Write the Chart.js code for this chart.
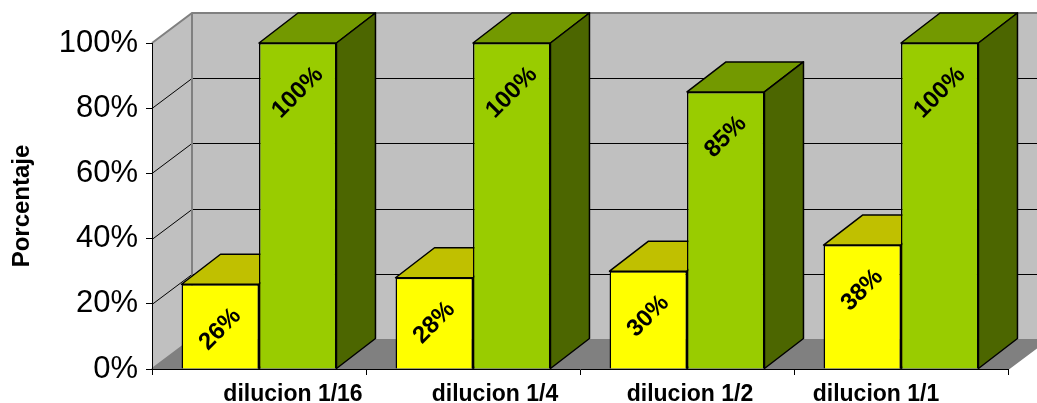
<!DOCTYPE html>
<html>
<head>
<meta charset="utf-8">
<script src="https://cdn.jsdelivr.net/npm/chart.js@4"></script>
<style>
  html, body { margin: 0; padding: 0; background: #fff; }
</style>
</head>
<body>
<canvas id="chart" width="1037" height="403"></canvas>
<script>
// data
const categories = ["dilucion 1/16", "dilucion 1/4", "dilucion 1/2", "dilucion 1/1"];
const seriesYellow = [26, 28, 30, 38];
const seriesGreen = [100, 100, 85, 100];
const yTicks = [0, 20, 40, 60, 80, 100];

// fake 3d depth (pixels)
const WALL_DX = 40, WALL_DY = -30;
const BAR_DX = 39, BAR_DY = -30;
// excel's perspective pulls the category labels toward the middle
const LABEL_SHIFT = [34, 22, 3, -25];

const faceColors = [
  { front: "#ffff00", top: "#c0c000", side: "#999900" },
  { front: "#99cc00", top: "#739900", side: "#4c6600" },
];

const FONT = 'Arial, "Liberation Sans", sans-serif';
Chart.defaults.font.family = FONT;
Chart.defaults.color = "#000";

function poly(ctx, pts, fill, stroke, lw) {
  ctx.beginPath();
  ctx.moveTo(pts[0][0], pts[0][1]);
  for (let i = 1; i < pts.length; i++) ctx.lineTo(pts[i][0], pts[i][1]);
  ctx.closePath();
  if (fill) { ctx.fillStyle = fill; ctx.fill(); }
  if (stroke) { ctx.strokeStyle = stroke; ctx.lineWidth = lw || 1; ctx.stroke(); }
}

const walls = {
  id: "walls",
  beforeDraw(chart) {
    const ctx = chart.ctx;
    const a = chart.chartArea;
    const ys = chart.scales.y;
    const L = a.left, R = a.right, T = a.top, B = a.bottom;
    ctx.save();
    // side wall, back wall, floor
    poly(ctx, [[L, B], [L, T], [L + WALL_DX, T + WALL_DY], [L + WALL_DX, B + WALL_DY]], "#c0c0c0");
    poly(ctx, [[L + WALL_DX, T + WALL_DY], [R + WALL_DX, T + WALL_DY], [R + WALL_DX, B + WALL_DY], [L + WALL_DX, B + WALL_DY]], "#c0c0c0");
    poly(ctx, [[L, B], [R, B], [R + WALL_DX, B + WALL_DY], [L + WALL_DX, B + WALL_DY]], "#808080");

    // gridlines across the walls
    ctx.strokeStyle = "#000";
    ctx.lineWidth = 1;
    yTicks.forEach((v) => {
      if (v === yTicks[0] || v === yTicks[yTicks.length - 1]) return;
      const y = Math.round(ys.getPixelForValue(v)) + 0.5;
      ctx.beginPath();
      ctx.moveTo(L, y);
      ctx.lineTo(L + WALL_DX, y + WALL_DY);
      ctx.lineTo(R + WALL_DX, y + WALL_DY);
      ctx.stroke();
    });

    // wall edges
    ctx.strokeStyle = "#808080";
    ctx.lineWidth = 2;
    ctx.beginPath();
    ctx.moveTo(L, T);
    ctx.lineTo(L + WALL_DX, T + WALL_DY);
    ctx.lineTo(R + WALL_DX, T + WALL_DY);
    ctx.moveTo(L + WALL_DX, T + WALL_DY);
    ctx.lineTo(L + WALL_DX, B + WALL_DY);
    ctx.moveTo(L, B);
    ctx.lineTo(L + WALL_DX, B + WALL_DY);
    ctx.moveTo(R, B);
    ctx.lineTo(R + WALL_DX, B + WALL_DY);
    ctx.stroke();
    ctx.restore();
  },
  beforeDatasetsDraw(chart) {
    // tops and sides of the boxes, fronts are the normal bars
    const ctx = chart.ctx;
    ctx.save();
    ctx.lineJoin = "round";
    for (let i = 0; i < categories.length; i++) {
      chart.data.datasets.forEach((ds, d) => {
        const el = chart.getDatasetMeta(d).data[i];
        const l = el.x - el.width / 2, r = el.x + el.width / 2;
        const t = el.y, b = el.base;
        poly(ctx, [[l, t], [r, t], [r + BAR_DX, t + BAR_DY], [l + BAR_DX, t + BAR_DY]], faceColors[d].top, "#000", 1.5);
        poly(ctx, [[r, t], [r + BAR_DX, t + BAR_DY], [r + BAR_DX, b + BAR_DY], [r, b]], faceColors[d].side, "#000", 1.5);
      });
    }
    ctx.restore();
  },
  afterDatasetsDraw(chart) {
    // rotated value labels inside the bars
    const ctx = chart.ctx;
    ctx.save();
    ctx.font = "bold 24px " + FONT;
    ctx.fillStyle = "#000";
    ctx.textAlign = "center";
    ctx.textBaseline = "middle";
    chart.data.datasets.forEach((ds, d) => {
      chart.getDatasetMeta(d).data.forEach((el, i) => {
        const txt = ds.data[i] + "%";
        const w = ctx.measureText(txt).width;
        const half = (w + 17) * 0.707 / 2;
        ctx.save();
        ctx.translate(el.x, el.y + 22 + half);
        ctx.rotate(-Math.PI / 4);
        ctx.fillText(txt, 0, 0);
        ctx.restore();
      });
    });
    ctx.restore();
  },
  afterDraw(chart) {
    // category labels
    const ctx = chart.ctx;
    const xs = chart.scales.x;
    ctx.save();
    ctx.font = "bold 23px " + FONT;
    ctx.fillStyle = "#000";
    ctx.textAlign = "center";
    ctx.textBaseline = "middle";
    categories.forEach((c, i) => {
      ctx.fillText(c, xs.getPixelForTick(i) + LABEL_SHIFT[i], xs.top + 26);
    });
    ctx.restore();
  },
};

new Chart(document.getElementById("chart"), {
  type: "bar",
  data: {
    labels: categories,
    datasets: [
      { data: seriesYellow, backgroundColor: faceColors[0].front, borderColor: "#000", borderWidth: 1.5 },
      { data: seriesGreen, backgroundColor: faceColors[1].front, borderColor: "#000", borderWidth: 1.5 },
    ],
  },
  options: {
    responsive: false,
    animation: false,
    categoryPercentage: 0.724,
    barPercentage: 1,
    layout: { padding: { left: 0, top: 43, right: 29, bottom: 0 } },
    plugins: { legend: { display: false }, tooltip: { enabled: false } },
    scales: {
      x: {
        grid: { offset: true, drawOnChartArea: false, tickLength: 6, color: "#000" },
        border: { display: true, color: "#000", width: 1 },
        ticks: { display: false },
        afterFit: (s) => { s.height = 34; },
      },
      y: {
        min: 0,
        max: 100,
        afterBuildTicks: (s) => { s.ticks = yTicks.map((v) => ({ value: v })); },
        grid: { drawOnChartArea: false, tickLength: 6, color: "#000" },
        border: { display: true, color: "#000", width: 1 },
        ticks: { callback: (v) => v + "%", font: { size: 31 }, padding: 8 },
        title: {
          display: true,
          text: "Porcentaje",
          font: { size: 24, weight: "bold" },
          padding: { top: 8, bottom: 0 },
        },
        afterFit: (s) => { s.width = 152; },
      },
    },
  },
  plugins: [walls],
});
</script>
</body>
</html>
